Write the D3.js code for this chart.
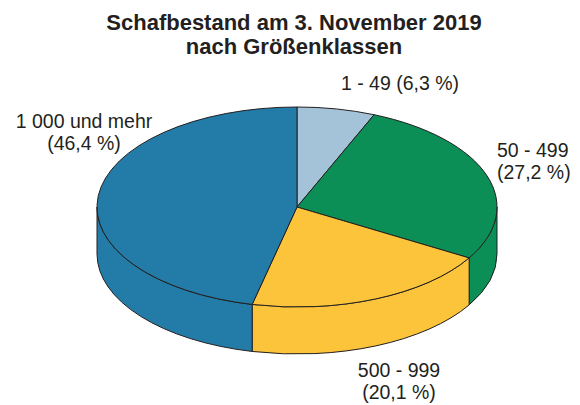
<!DOCTYPE html>
<html lang="de">
<head>
<meta charset="UTF-8">
<title>Schafbestand</title>
<style>
  body { margin: 0; background: #fff; }
  text { font-family: "Liberation Sans", Arial, sans-serif; fill: #231f20; }
</style>
</head>
<body>
<div class="canvas"></div>
<script src="https://cdnjs.cloudflare.com/ajax/libs/d3/7.8.5/d3.min.js"></script>
<script>
// data
const categories = ['1 - 49', '50 - 499', '500 - 999', '1 000 und mehr'];
const shares = [6.3, 27.2, 20.1, 46.4];
const colors = ['#a5c3d8', '#0b8f57', '#fcc43b', '#237ca8'];
const titleLines = ['Schafbestand am 3. November 2019', 'nach Größenklassen'];

const width = 580, height = 405;
const cx = 297, cy = 207;     // center of top ellipse
const rx = 200, ry = 100;     // radii
const depth = 47;             // thickness of the pie

const svg = d3.select('.canvas')
  .append('svg')
    .attr('width', width)
    .attr('height', height);

// title
svg.append('text')
  .attr('text-anchor', 'middle')
  .attr('font-weight', 'bold')
  .attr('font-size', 22)
  .selectAll('tspan')
  .data(titleLines)
  .enter().append('tspan')
    .attr('x', 294)
    .attr('y', (d, i) => 30 + i * 24)
    .text(d => d);

const pie = d3.pie().sort(null).value(d => d)(shares);

// point on the ellipse, angle measured clockwise from 12 o'clock
const pt = (a, dy = 0) => [cx + rx * Math.sin(a), cy - ry * Math.cos(a) + dy];

const sideGroup = svg.append('g');
const topGroup = svg.append('g');

// side walls, only the front half is visible
pie.forEach((p, i) => {
  const a0 = Math.max(p.startAngle, Math.PI / 2);
  const a1 = Math.min(p.endAngle, Math.PI * 3 / 2);
  if (a1 <= a0) return;
  const p0 = pt(a0), p1 = pt(a1);
  const large = (a1 - a0) > Math.PI ? 1 : 0;
  const d = `M${p0[0]},${p0[1]}`
    + `A${rx},${ry} 0 ${large} 1 ${p1[0]},${p1[1]}`
    + `L${p1[0]},${p1[1] + depth}`
    + `A${rx},${ry} 0 ${large} 0 ${p0[0]},${p0[1] + depth}Z`;
  sideGroup.append('path')
    .attr('d', d)
    .attr('fill', colors[i])
    .attr('stroke', '#231f20')
    .attr('stroke-width', 1)
    .attr('stroke-linejoin', 'round');
});

// top face: circular arcs squashed into an ellipse
const arc = d3.arc().innerRadius(0).outerRadius(rx);
topGroup.attr('transform', `translate(${cx},${cy}) scale(1,${ry / rx})`)
  .selectAll('path')
  .data(pie)
  .enter().append('path')
    .attr('d', arc)
    .attr('fill', (d, i) => colors[i])
    .attr('stroke', '#231f20')
    .attr('stroke-width', 1)
    .attr('stroke-linejoin', 'round')
    .attr('vector-effect', 'non-scaling-stroke');

// labels
const pct = v => `(${v.toFixed(1).replace('.', ',')} %)`;
const labels = [
  { lines: [`${categories[0]} ${pct(shares[0])}`], x: 400, y: 90, anchor: 'middle' },
  { lines: [categories[1], pct(shares[1])], x: 497, y: 157, anchor: 'start' },
  { lines: [categories[2], pct(shares[2])], x: 399, y: 377, anchor: 'middle' },
  { lines: [categories[3], pct(shares[3])], x: 84, y: 128, anchor: 'middle' }
];

labels.forEach(l => {
  const t = svg.append('text')
    .attr('font-size', 19.5)
    .attr('text-anchor', l.anchor);
  l.lines.forEach((line, j) => {
    t.append('tspan')
      .attr('x', l.x)
      .attr('y', l.y + j * 21.5)
      .text(line);
  });
});
</script>
</body>
</html>
